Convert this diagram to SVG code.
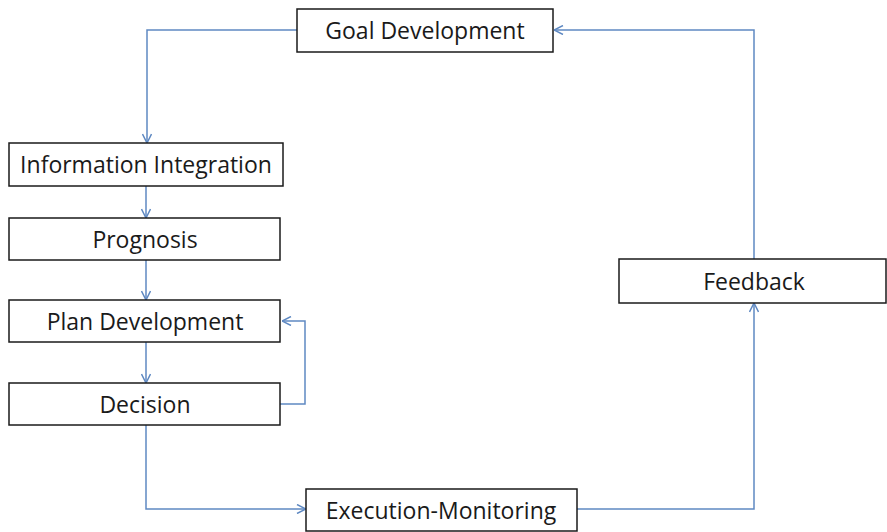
<svg xmlns="http://www.w3.org/2000/svg" width="887" height="532" viewBox="0 0 887 532">
<style>
.box{fill:#fff;stroke:#1a1a1a;stroke-width:1.5}
.lbl{font-family:"Open Sans","Liberation Sans",sans-serif;font-size:23px;fill:#1a1a1a;text-anchor:middle}
.cn{fill:none;stroke:#5f89c2;stroke-width:1.5}
</style>
<defs>
<marker id="ah" viewBox="0 0 10 10" refX="10" refY="5" markerWidth="10" markerHeight="10" markerUnits="userSpaceOnUse" orient="auto">
<path d="M1,0.5 L10,5 L1,9.5" fill="none" stroke="#5f89c2" stroke-width="1.5"/>
</marker>
</defs>
<g id="connectors">
<path class="cn" d="M297,30 H147 V143" marker-end="url(#ah)"/>
<path class="cn" d="M146,186 V218" marker-end="url(#ah)"/>
<path class="cn" d="M146,260 V300" marker-end="url(#ah)"/>
<path class="cn" d="M146,342 V383" marker-end="url(#ah)"/>
<path class="cn" d="M280,404 H305 V321 H282" marker-end="url(#ah)"/>
<path class="cn" d="M146,425 V509 H306" marker-end="url(#ah)"/>
<path class="cn" d="M577,509 H754 V303" marker-end="url(#ah)"/>
<path class="cn" d="M754,259 V30 H554" marker-end="url(#ah)"/>
</g>
<g id="goal"><rect class="box" x="297" y="9" width="256" height="43"/><text class="lbl" x="425" y="39">Goal Development</text></g>
<g id="info"><rect class="box" x="9" y="143" width="274" height="43"/><text class="lbl" x="146" y="173">Information Integration</text></g>
<g id="prognosis"><rect class="box" x="9" y="218" width="271" height="42"/><text class="lbl" x="145" y="248">Prognosis</text></g>
<g id="plan"><rect class="box" x="9" y="300" width="271" height="42"/><text class="lbl" x="145" y="330">Plan Development</text></g>
<g id="decision"><rect class="box" x="9" y="383" width="271" height="42"/><text class="lbl" x="145" y="413">Decision</text></g>
<g id="execution"><rect class="box" x="306" y="489" width="271" height="42"/><text class="lbl" x="441" y="519">Execution-Monitoring</text></g>
<g id="feedback"><rect class="box" x="619" y="259" width="267" height="44"/><text class="lbl" x="754" y="290">Feedback</text></g>
</svg>
